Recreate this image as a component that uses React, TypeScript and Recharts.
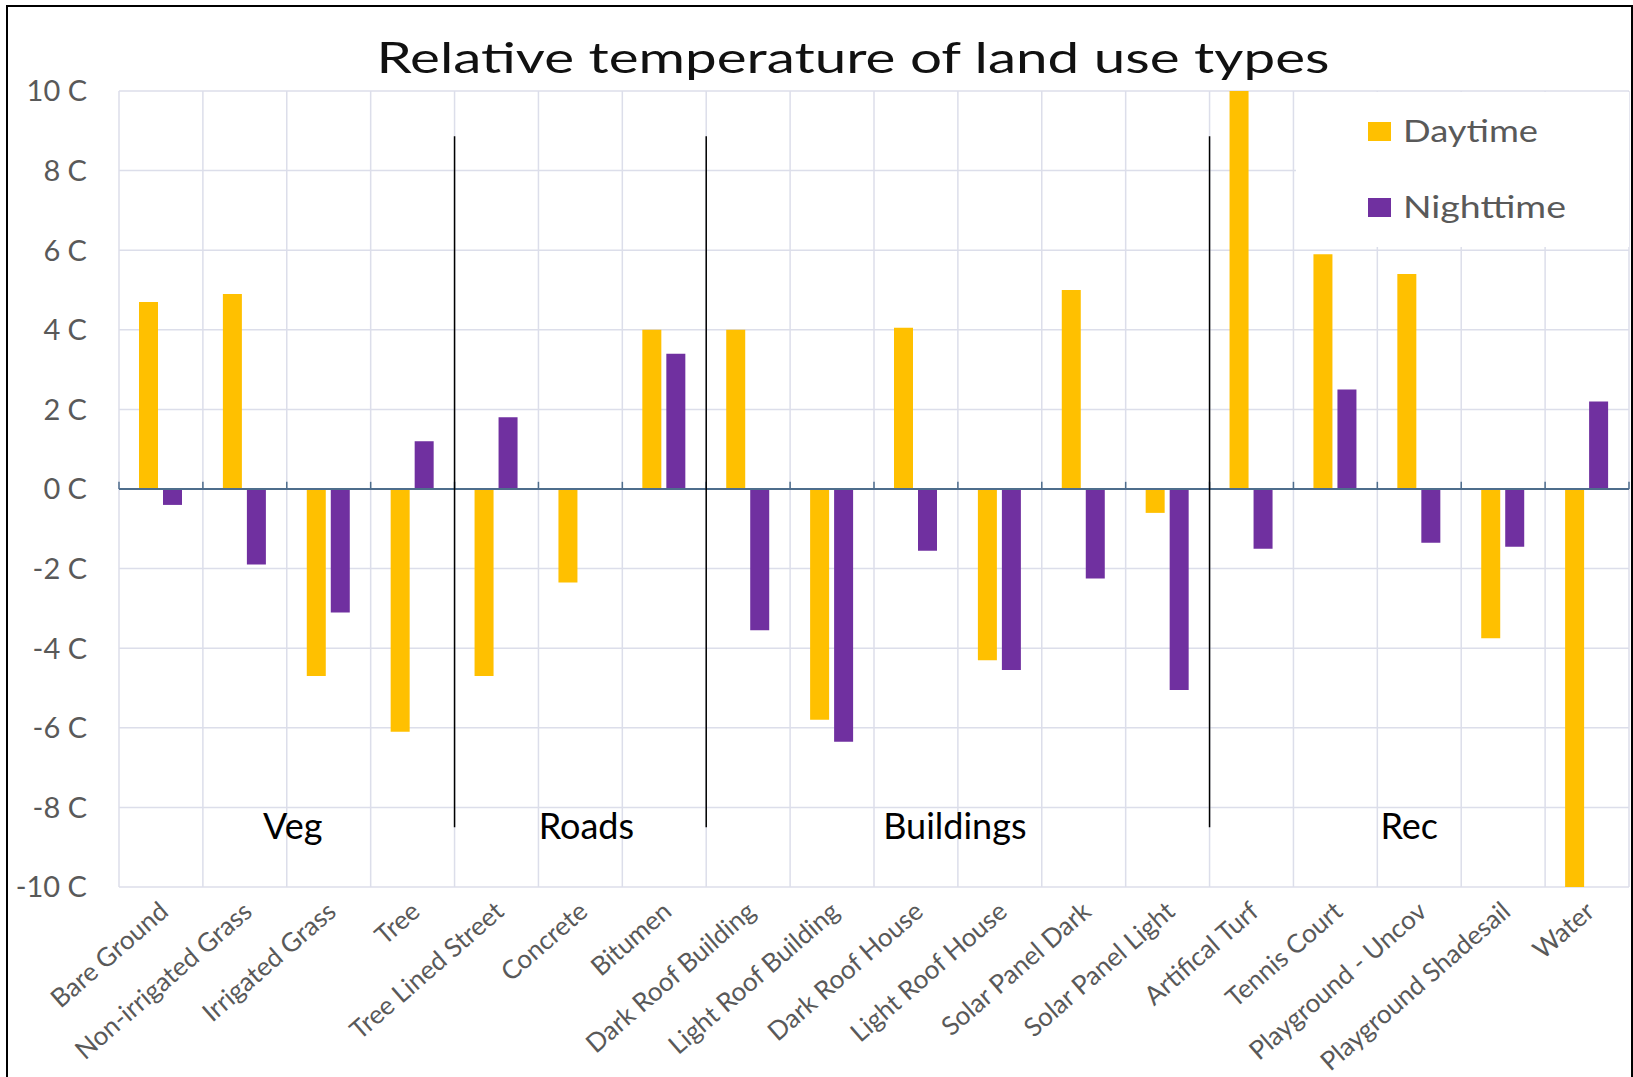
import React from 'react';
import {
  BarChart, Bar, XAxis, YAxis, CartesianGrid, ReferenceLine, ReferenceArea, Legend, Customized,
} from 'recharts';

const categories = [
  'Bare Ground', 'Non-irrigated Grass', 'Irrigated Grass', 'Tree', 'Tree Lined Street',
  'Concrete', 'Bitumen', 'Dark Roof Building', 'Light Roof Building', 'Dark Roof House',
  'Light Roof House', 'Solar Panel Dark', 'Solar Panel Light', 'Artifical Turf',
  'Tennis Court', 'Playground - Uncov', 'Playground Shadesail', 'Water',
];
const daytime = [4.7, 4.9, -4.7, -6.1, -4.7, -2.35, 4.0, 4.0, -5.8, 4.05, -4.3, 5.0, -0.6, 10, 5.9, 5.4, -3.75, -10];
const nighttime = [-0.4, -1.9, -3.1, 1.2, 1.8, 0, 3.4, -3.55, -6.35, -1.55, -4.55, -2.25, -5.05, -1.5, 2.5, -1.35, -1.45, 2.2];
const yTicks = [-10, -8, -6, -4, -2, 0, 2, 4, 6, 8, 10];

const groups = [
  { name: 'Veg', first: 'Bare Ground', last: 'Tree' },
  { name: 'Roads', first: 'Tree Lined Street', last: 'Bitumen' },
  { name: 'Buildings', first: 'Dark Roof Building', last: 'Solar Panel Light' },
  { name: 'Rec', first: 'Artifical Turf', last: 'Water' },
];
const groupLabelShift = [6, 6, -3, -10];
const dividerTop = 8.86;
const dividerBottom = -8.5;
const groupLabelBand = [-8.2, -8.75];

const data = categories.map((name, i) => ({ name, day: daytime[i], night: nighttime[i] }));

const DAY = '#FFC000';
const NIGHT = '#7030A0';
const GRID = '#DCDEEA';
const AXIS = '#4E6D8C';
const FONT = 'Lato, "Open Sans", sans-serif';

const XTick = (props: any) => {
  const { x, y, payload } = props;
  return (
    <g transform={`translate(${x + 9},${y + 27})`}>
      <text textAnchor="end" transform="rotate(-41)" fontSize={26} fill="#595959" fontFamily={FONT}>
        {payload.value}
      </text>
    </g>
  );
};

const YTick = (props: any) => {
  const { x, y, payload } = props;
  return (
    <text x={x - 32} y={y} dy="0.36em" textAnchor="end" fontSize={29} fill="#595959" fontFamily={FONT}>
      {`${payload.value} C`}
    </text>
  );
};

const LegendContent = (props: any) => {
  const items = props.payload || [];
  const widths = [135, 163];
  return (
    <svg width={333} height={155} style={{ display: 'block' }}>
      <rect x={0} y={0} width={333} height={155} fill="#fff" />
      {items.map((it: any, i: number) => (
        <g key={i} transform={`translate(0,${i * 76})`}>
          <rect x={72} y={30} width={23} height={19} fill={it.color} />
          <text x={107} y={49.5} fontSize={30} fill="#595959" fontFamily={FONT}
            textLength={widths[i]} lengthAdjust="spacingAndGlyphs">
            {it.value}
          </text>
        </g>
      ))}
    </svg>
  );
};

const Decor = () => (
  <g>
    <rect x={7} y={6} width={1625} height={1100} fill="none" stroke="#000" strokeWidth={2} />
    <text x={853} y={73} textAnchor="middle" fontSize={42} fill="#111" fontFamily={FONT}
      textLength={953} lengthAdjust="spacingAndGlyphs">
      Relative temperature of land use types
    </text>
  </g>
);

export default function App() {
  const lastCat = categories[categories.length - 1];
  return (
    <div style={{ position: 'absolute', left: 0, top: 0, background: '#fff' }}>
      <BarChart
        width={1633}
        height={1077}
        data={data}
        margin={{ top: 91, right: 4, left: 0, bottom: 20 }}
        barGap={5}
      >
        <CartesianGrid stroke={GRID} strokeWidth={1.5} vertical={false} horizontal />
        {categories.map((c) => (
          <ReferenceLine key={`g${c}`} x={c} position="start" stroke={GRID} strokeWidth={1.5} />
        ))}
        <ReferenceLine key="gEnd" x={lastCat} position="end" stroke={GRID} strokeWidth={1.5} />
        <XAxis
          dataKey="name"
          interval={0}
          axisLine={false}
          tickLine={false}
          tickSize={0}
          tickMargin={0}
          height={170}
          tick={<XTick />}
        />
        <YAxis
          domain={[-10, 10]}
          ticks={yTicks}
          allowDataOverflow
          axisLine={false}
          tickLine={false}
          tickSize={0}
          tickMargin={0}
          width={119}
          tick={<YTick />}
        />
        <Bar dataKey="day" name="Daytime" fill={DAY} barSize={19} isAnimationActive={false} />
        <Bar dataKey="night" name="Nighttime" fill={NIGHT} barSize={19} isAnimationActive={false} />
        <ReferenceLine y={0} stroke={AXIS} strokeWidth={2} />
        {categories.map((c) => (
          <ReferenceLine key={`t${c}`} position="start" segment={[{ x: c, y: 0 }, { x: c, y: 0.18 }]}
            stroke={AXIS} strokeWidth={1.5} />
        ))}
        <ReferenceLine key="tEnd" position="end" segment={[{ x: lastCat, y: 0 }, { x: lastCat, y: 0.18 }]}
          stroke={AXIS} strokeWidth={1.5} />
        {groups.slice(1).map((g) => (
          <ReferenceLine key={`d${g.first}`} position="start"
            segment={[{ x: g.first, y: dividerTop }, { x: g.first, y: dividerBottom }]}
            stroke="#000" strokeWidth={1.5} />
        ))}
        {groups.map((g, i) => (
          <ReferenceArea key={`a${g.name}`} x1={g.first} x2={g.last}
            y1={groupLabelBand[0]} y2={groupLabelBand[1]}
            fill="none" fillOpacity={0} stroke="none"
            label={{ value: g.name, position: 'center', fontSize: 36, fill: '#000', fontFamily: FONT, dx: groupLabelShift[i] }}
          />
        ))}
        <Legend
          layout="horizontal"
          verticalAlign="middle"
          align="center"
          content={<LegendContent />}
          wrapperStyle={{ position: 'absolute', left: 1296, top: 92, width: 333, height: 155 }}
        />
        <Customized component={Decor} />
      </BarChart>
    </div>
  );
}
